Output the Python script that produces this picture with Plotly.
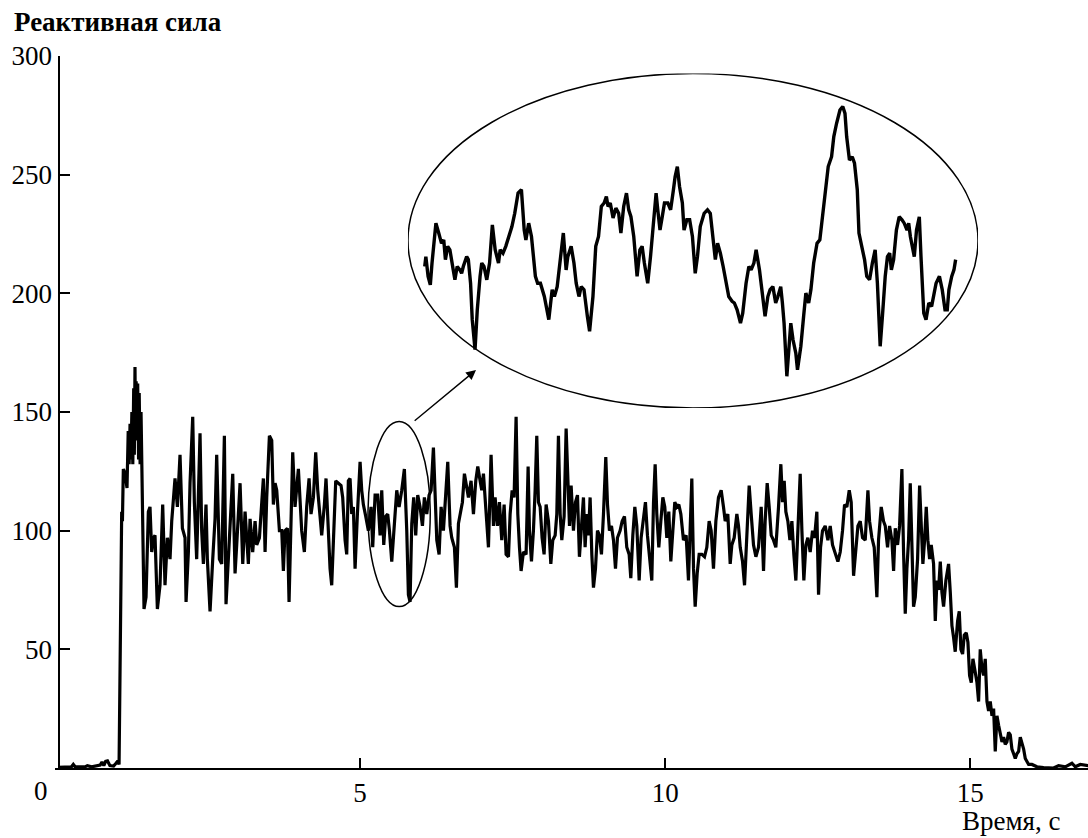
import plotly.graph_objects as go

# ---------------- main record: time (s) and thrust ("Реактивная сила") ----------------
time_s = [
    0.05, 0.27, 0.30, 0.33, 0.50, 0.53, 0.60, 0.74, 0.77, 0.80,
    0.83, 0.86, 0.90, 0.96, 1.00, 1.03, 1.05, 1.093, 1.105, 1.12,
    1.15, 1.18, 1.20, 1.215, 1.23, 1.245, 1.26, 1.275, 1.29, 1.30,
    1.311, 1.32, 1.33, 1.345, 1.355, 1.37, 1.38, 1.395, 1.41, 1.421,
    1.437, 1.459, 1.492, 1.53, 1.557, 1.585, 1.612, 1.639, 1.678, 1.721,
    1.765, 1.803, 1.842, 1.885, 1.913, 1.967, 2.006, 2.049, 2.088, 2.131,
    2.148, 2.186, 2.213, 2.257, 2.284, 2.322, 2.377, 2.404, 2.432, 2.475,
    2.497, 2.541, 2.585, 2.623, 2.650, 2.694, 2.732, 2.776, 2.803, 2.831,
    2.869, 2.913, 2.951, 2.978, 3.033, 3.077, 3.115, 3.142, 3.169, 3.197,
    3.240, 3.279, 3.306, 3.350, 3.388, 3.415, 3.443, 3.470, 3.514, 3.552,
    3.579, 3.607, 3.634, 3.678, 3.716, 3.743, 3.770, 3.809, 3.836, 3.869,
    3.896, 3.934, 3.989, 4.043, 4.087, 4.125, 4.164, 4.196, 4.235, 4.273,
    4.306, 4.344, 4.371, 4.415, 4.442, 4.480, 4.508, 4.535, 4.579, 4.601,
    4.644, 4.688, 4.715, 4.754, 4.781, 4.808, 4.836, 4.863, 4.890, 4.918,
    4.956, 5.000, 5.027, 5.054, 5.093, 5.136, 5.180, 5.207, 5.246, 5.289,
    5.328, 5.355, 5.388, 5.420, 5.453, 5.481, 5.519, 5.546, 5.573, 5.601,
    5.639, 5.683, 5.726, 5.765, 5.792, 5.819, 5.847, 5.879, 5.912, 5.945,
    5.983, 6.022, 6.054, 6.093, 6.131, 6.164, 6.202, 6.229, 6.257, 6.295,
    6.328, 6.366, 6.404, 6.437, 6.475, 6.502, 6.546, 6.579, 6.612, 6.644,
    6.677, 6.710, 6.748, 6.776, 6.819, 6.858, 6.896, 6.929, 6.967, 6.994,
    7.022, 7.049, 7.076, 7.104, 7.147, 7.186, 7.213, 7.251, 7.284, 7.322,
    7.361, 7.393, 7.432, 7.459, 7.492, 7.524, 7.557, 7.585, 7.612, 7.639,
    7.677, 7.721, 7.754, 7.776, 7.809, 7.841, 7.869, 7.896, 7.923, 7.951,
    7.983, 8.016, 8.049, 8.087, 8.126, 8.158, 8.197, 8.224, 8.251, 8.279,
    8.306, 8.344, 8.377, 8.404, 8.432, 8.459, 8.497, 8.530, 8.563, 8.595,
    8.623, 8.661, 8.688, 8.716, 8.743, 8.770, 8.798, 8.825, 8.858, 8.891,
    8.923, 8.956, 8.989, 9.027, 9.055, 9.087, 9.120, 9.153, 9.186, 9.218,
    9.262, 9.295, 9.333, 9.371, 9.410, 9.437, 9.470, 9.503, 9.535, 9.574,
    9.606, 9.645, 9.677, 9.710, 9.743, 9.781, 9.809, 9.836, 9.863, 9.896,
    9.929, 9.962, 9.994, 10.027, 10.060, 10.093, 10.126, 10.158, 10.191, 10.224,
    10.257, 10.300, 10.344, 10.382, 10.437, 10.465, 10.492, 10.525, 10.557, 10.601,
    10.645, 10.683, 10.721, 10.754, 10.792, 10.831, 10.874, 10.918, 10.956, 10.984,
    11.027, 11.066, 11.093, 11.131, 11.175, 11.202, 11.230, 11.268, 11.301, 11.339,
    11.377, 11.410, 11.448, 11.487, 11.530, 11.574, 11.612, 11.639, 11.672, 11.705,
    11.738, 11.776, 11.814, 11.858, 11.896, 11.924, 11.951, 11.978, 12.011, 12.044,
    12.077, 12.109, 12.142, 12.175, 12.213, 12.241, 12.273, 12.306, 12.339, 12.377,
    12.415, 12.448, 12.486, 12.514, 12.547, 12.579, 12.623, 12.667, 12.705, 12.743,
    12.787, 12.831, 12.869, 12.907, 12.940, 12.978, 13.017, 13.049, 13.088, 13.126,
    13.159, 13.197, 13.235, 13.279, 13.323, 13.350, 13.388, 13.426, 13.470, 13.497,
    13.541, 13.579, 13.607, 13.645, 13.678, 13.716, 13.744, 13.771, 13.809, 13.842,
    13.880, 13.907, 13.935, 13.962, 13.989, 14.017, 14.044, 14.071, 14.099, 14.137,
    14.170, 14.192, 14.224, 14.252, 14.279, 14.306, 14.334, 14.361, 14.399, 14.427,
    14.454, 14.481, 14.509, 14.536, 14.563, 14.601, 14.645, 14.673, 14.700, 14.727,
    14.754, 14.793, 14.820, 14.847, 14.875, 14.902, 14.935, 14.962, 14.989, 15.017,
    15.044, 15.071, 15.110, 15.137, 15.164, 15.192, 15.219, 15.246, 15.274, 15.301,
    15.328, 15.356, 15.383, 15.410, 15.438, 15.465, 15.492, 15.520, 15.547, 15.574,
    15.601, 15.629, 15.656, 15.683, 15.711, 15.738, 15.765, 15.793, 15.820, 15.847,
    15.875, 15.902, 15.929, 15.957, 16.011, 16.093, 16.203, 16.366, 16.448, 16.558,
    16.667, 16.722, 16.804, 16.935,
]
force = [
    0.3, 0.5, 1.5, 0.5, 0.6, 1.0, 0.5, 1.2, 2.5, 1.0,
    2.8, 3.0, 1.0, 0.8, 2.0, 3.0, 1.5, 108, 104, 126,
    124, 118, 142, 128, 145, 130, 150, 128, 160, 132,
    169, 140, 163, 138, 162, 130, 158, 128, 150, 130,
    120, 67, 72, 108, 110, 91, 97, 98, 67, 77,
    111, 77, 97, 88, 104, 122, 110, 132, 101, 97,
    70, 91, 120, 148, 112, 88, 141, 100, 86, 111,
    88, 66, 88, 105, 132, 88, 86, 140, 69, 86,
    102, 124, 82, 94, 120, 86, 108, 97, 86, 105,
    91, 104, 94, 97, 115, 122, 91, 114, 140, 138,
    111, 120, 117, 100, 100, 83, 100, 101, 70, 100,
    133, 110, 126, 100, 91, 110, 122, 107, 114, 133,
    117, 106, 98, 111, 122, 100, 84, 77, 109, 121,
    120, 119, 114, 96, 90, 121, 122, 107, 110, 84,
    107, 129, 117, 111, 106, 100, 110, 93, 115, 115,
    98, 117, 94, 106, 107, 100, 87, 98, 107, 117,
    110, 117, 126, 100, 73, 70, 103, 114, 98, 115,
    110, 102, 114, 107, 115, 117, 135, 110, 96, 90,
    110, 100, 114, 129, 102, 97, 93, 76, 103, 108,
    112, 124, 119, 114, 121, 107, 121, 127, 121, 117,
    124, 115, 103, 93, 132, 102, 114, 102, 112, 96,
    111, 90, 89, 107, 117, 114, 148, 107, 93, 83,
    91, 90, 127, 100, 87, 100, 117, 140, 112, 110,
    97, 90, 111, 104, 86, 96, 98, 107, 140, 107,
    96, 106, 143, 120, 102, 119, 100, 112, 115, 89,
    102, 114, 93, 107, 98, 114, 90, 76, 84, 100,
    98, 90, 107, 131, 111, 100, 102, 96, 84, 97,
    100, 104, 106, 93, 90, 80, 98, 110, 102, 79,
    97, 104, 112, 98, 90, 79, 112, 128, 107, 93,
    104, 114, 110, 97, 108, 87, 100, 112, 110, 111,
    107, 96, 98, 79, 122, 84, 68, 82, 90, 90,
    89, 93, 104, 100, 84, 104, 114, 117, 110, 104,
    107, 86, 94, 97, 107, 102, 93, 87, 77, 96,
    119, 107, 94, 89, 93, 110, 83, 104, 120, 110,
    98, 96, 93, 110, 128, 112, 121, 108, 104, 96,
    104, 90, 79, 100, 124, 100, 79, 94, 97, 91,
    100, 97, 108, 73, 93, 100, 102, 96, 102, 94,
    90, 87, 91, 100, 111, 110, 117, 112, 81, 93,
    102, 104, 97, 96, 117, 104, 97, 93, 72, 96,
    110, 104, 102, 93, 102, 96, 83, 101, 94, 102,
    126, 91, 65, 84, 96, 120, 96, 68, 72, 88,
    119, 102, 86, 96, 110, 96, 88, 94, 86, 62,
    79, 75, 87, 74, 68, 79, 86, 74, 60, 55,
    49, 62, 66, 50, 48, 56, 57, 53, 39, 36,
    46, 42, 36, 28, 50, 42, 39, 46, 28, 24,
    28, 22, 25, 7, 22, 18, 14, 11, 13, 10,
    11, 15, 14, 8, 6, 4, 6, 7, 13, 11,
    8, 4, 3, 1.5, 1.5, 0.5, 0.2, 0.0, 1.0, 0.5,
    2.0, 0.5, 1.5, 1.0,
]

# ---------------- magnified fragment shown in the large ellipse ----------------
inset_time_s = [
    5.160, 5.162, 5.166, 5.170, 5.173, 5.180, 5.185, 5.190, 5.194, 5.197,
    5.201, 5.205, 5.211, 5.214, 5.218, 5.223, 5.226, 5.229, 5.235, 5.238,
    5.242, 5.245, 5.250, 5.254, 5.259, 5.262, 5.266, 5.271, 5.276, 5.281,
    5.286, 5.292, 5.295, 5.300, 5.305, 5.310, 5.316, 5.321, 5.327, 5.333,
    5.338, 5.341, 5.346, 5.351, 5.358, 5.362, 5.367, 5.374, 5.382, 5.388,
    5.392, 5.397, 5.403, 5.408, 5.413, 5.416, 5.422, 5.427, 5.431, 5.436,
    5.440, 5.445, 5.451, 5.455, 5.461, 5.466, 5.471, 5.476, 5.481, 5.485,
    5.488, 5.492, 5.497, 5.502, 5.507, 5.511, 5.516, 5.521, 5.525, 5.529,
    5.534, 5.540, 5.545, 5.549, 5.553, 5.559, 5.564, 5.569, 5.574, 5.577,
    5.581, 5.585, 5.589, 5.595, 5.600, 5.605, 5.608, 5.612, 5.616, 5.621,
    5.624, 5.629, 5.634, 5.639, 5.644, 5.648, 5.653, 5.660, 5.666, 5.671,
    5.677, 5.680, 5.684, 5.689, 5.694, 5.699, 5.704, 5.710, 5.714, 5.719,
    5.725, 5.729, 5.735, 5.740, 5.744, 5.749, 5.753, 5.759, 5.764, 5.769,
    5.774, 5.778, 5.783, 5.788, 5.792, 5.797, 5.800, 5.803, 5.808, 5.812,
    5.815, 5.819, 5.824, 5.827, 5.833, 5.838, 5.842, 5.847, 5.851, 5.856,
    5.862, 5.867, 5.872, 5.877, 5.882, 5.888, 5.892, 5.897, 5.903, 5.908,
    5.912, 5.915, 5.920, 5.925, 5.929, 5.934, 5.937, 5.942, 5.947, 5.951,
    5.956, 5.961, 5.966, 5.970, 5.975, 5.979, 5.984, 5.988, 5.992, 5.995,
    5.999, 6.004, 6.009, 6.014, 6.018, 6.023, 6.026, 6.029, 6.033, 6.036,
    6.040, 6.045, 6.048, 6.053, 6.057, 6.062, 6.067, 6.071, 6.075, 6.081,
    6.086, 6.091, 6.095, 6.098, 6.103, 6.107, 6.110,
]
inset_force = [
    101.0, 103.3, 98.7, 96.7, 101.8, 111.1, 108.8, 106.4, 107.2, 102.6,
    105.7, 104.9, 100.2, 97.9, 101.0, 100.2, 99.4, 101.0, 103.3, 102.6,
    97.1, 88.6, 81.6, 90.9, 98.7, 101.8, 101.0, 97.9, 101.8, 110.7,
    104.9, 101.8, 104.9, 104.1, 105.7, 108.0, 110.3, 113.4, 118.1, 118.9,
    109.5, 107.2, 111.1, 108.0, 98.7, 97.1, 97.1, 94.0, 88.6, 95.6,
    94.0, 96.3, 103.3, 108.8, 100.2, 103.3, 105.7, 101.8, 97.1, 94.0,
    96.3, 95.6, 89.4, 85.9, 94.0, 105.7, 108.0, 115.0, 115.8, 117.3,
    115.0, 115.8, 112.3, 114.6, 113.4, 108.8, 115.0, 118.1, 114.2, 112.6,
    108.0, 98.7, 104.9, 105.7, 101.8, 97.1, 103.3, 111.1, 118.1, 114.2,
    109.5, 112.6, 115.8, 115.8, 114.2, 118.9, 121.9, 124.3, 119.6, 115.8,
    109.5, 111.9, 111.9, 108.0, 99.4, 103.3, 110.3, 113.4, 114.2, 113.4,
    106.4, 102.6, 106.4, 104.1, 101.0, 97.1, 94.0, 92.9, 92.5, 90.9,
    87.8, 90.1, 97.1, 101.0, 100.2, 101.8, 104.9, 100.2, 94.8, 89.4,
    94.0, 95.6, 96.3, 92.5, 94.0, 96.3, 92.5, 87.8, 75.4, 81.6,
    87.8, 83.9, 80.8, 76.9, 82.4, 89.4, 94.8, 92.5, 95.6, 101.8,
    106.4, 107.2, 112.6, 119.6, 124.3, 126.6, 131.3, 134.4, 137.5, 138.3,
    136.7, 131.3, 125.8, 126.6, 125.1, 118.9, 108.8, 105.7, 102.6, 98.7,
    97.9, 101.8, 104.9, 97.1, 82.4, 89.4, 98.7, 103.3, 104.1, 100.2,
    102.6, 109.5, 112.6, 111.9, 111.1, 109.5, 111.1, 108.0, 104.9, 103.3,
    109.5, 112.6, 103.3, 90.1, 88.6, 92.5, 91.7, 94.0, 97.1, 98.7,
    95.6, 90.9, 90.9, 95.6, 98.7, 100.2, 102.6,
]

# axis ticks and labels
x_ticks = [5, 10, 15]
y_ticks = [50, 100, 150, 200, 250, 300]
y_label = "Реактивная сила"
x_label = "Время, с"

# magnified window (time range, force range) and where the magnified view is placed
zoom_t = [5.13, 6.15]
zoom_f = [68, 146]
inset_dom_x = [0.3417, 0.8935]
inset_dom_y = [0.5056, 0.9754]
arrow_tail = (5.87, 145.8)
arrow_head = (6.90, 167.7)

SERIF = "Liberation Serif, Times New Roman, serif"

fig = go.Figure()
fig.add_trace(go.Scatter(
    x=time_s, y=force, mode="lines",
    line=dict(color="black", width=3.2), hoverinfo="skip",
))
fig.add_trace(go.Scatter(
    x=inset_time_s, y=inset_force, mode="lines", xaxis="x2", yaxis="y2",
    line=dict(color="black", width=3.4), hoverinfo="skip",
))

axis_style = dict(
    showline=True, linecolor="black", linewidth=2,
    ticks="inside", ticklen=10, tickwidth=2, tickcolor="black",
    showgrid=False, zeroline=False, automargin=False,
    tickfont=dict(family=SERIF, size=27, color="black"),
)

fig.update_layout(
    width=1088, height=838,
    margin=dict(l=55, r=0, t=56, b=70, autoexpand=False),
    paper_bgcolor="white", plot_bgcolor="white",
    showlegend=False,
    xaxis=dict(range=[0, 16.93], tickvals=x_ticks, **axis_style),
    yaxis=dict(range=[0, 300], tickvals=y_ticks, anchor="free", position=0.0034, **axis_style),
    xaxis2=dict(domain=inset_dom_x, range=zoom_t, anchor="y2", visible=False),
    yaxis2=dict(domain=inset_dom_y, range=zoom_f, anchor="x2", visible=False),
    shapes=[
        dict(type="circle", xref="x", yref="y",
             x0=zoom_t[0], x1=zoom_t[1], y0=zoom_f[0], y1=zoom_f[1],
             line=dict(color="black", width=1.5)),
        dict(type="circle", xref="x2", yref="y2",
             x0=zoom_t[0], x1=zoom_t[1], y0=zoom_f[0], y1=zoom_f[1],
             line=dict(color="black", width=1.5)),
    ],
    annotations=[
        dict(x=arrow_head[0], y=arrow_head[1], ax=arrow_tail[0], ay=arrow_tail[1],
             xref="x", yref="y", axref="x", ayref="y", text="",
             showarrow=True, arrowhead=2, arrowsize=1.4, arrowwidth=1.4, arrowcolor="black"),
        dict(text=y_label, xref="paper", yref="paper", x=-0.0416, y=1.0480,
             xanchor="left", yanchor="middle", showarrow=False,
             font=dict(family=SERIF, size=27, color="black", weight="bold")),
        dict(text=x_label, xref="paper", yref="paper", x=0.9748, y=-0.0750,
             xanchor="right", yanchor="middle", showarrow=False,
             font=dict(family=SERIF, size=27, color="black")),
        dict(text="0", xref="paper", yref="paper", x=-0.0136, y=-0.0323,
             xanchor="center", yanchor="middle", showarrow=False,
             font=dict(family=SERIF, size=27, color="black")),
    ],
)

# remove the page's default 8 px body margin so the figure fills the window exactly
fig.write_html(
    "out.html",
    config={"displayModeBar": False},
    post_script="document.body.style.margin='0px';",
)
